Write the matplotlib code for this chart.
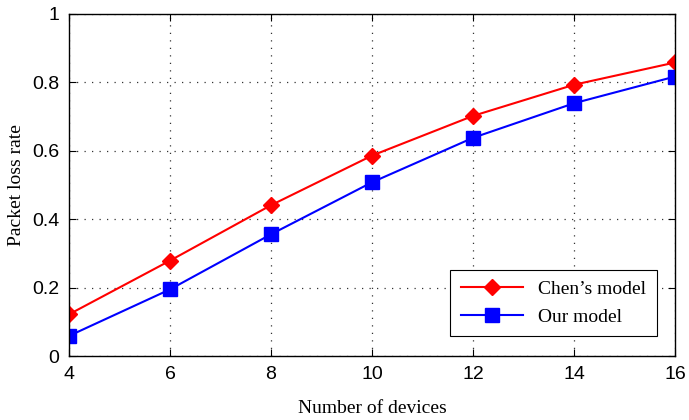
import matplotlib
matplotlib.use("Agg")
import matplotlib.pyplot as plt

# data
devices = [4, 6, 8, 10, 12, 14, 16]
chen_model = [0.122, 0.279, 0.441, 0.586, 0.702, 0.793, 0.858]
our_model = [0.059, 0.195, 0.356, 0.508, 0.638, 0.739, 0.817]
x_ticks = [4, 6, 8, 10, 12, 14, 16]
y_ticks = [0, 0.2, 0.4, 0.6, 0.8, 1]
y_tick_labels = ['0', '0.2', '0.4', '0.6', '0.8', '1']

sans = ['Liberation Sans', 'DejaVu Sans']
serif = ['Liberation Serif', 'DejaVu Serif']

fig = plt.figure(figsize=(6.89, 4.2), dpi=100)
ax = fig.add_axes([0.100, 0.152, 0.880, 0.815])

ax.plot(devices, chen_model, color='red', linewidth=1.5, marker='D',
        markersize=8.5, markerfacecolor='red', markeredgecolor='red',
        label='Chen\u2019s model')
ax.plot(devices, our_model, color='blue', linewidth=1.5, marker='s',
        markersize=9.5, markerfacecolor='blue', markeredgecolor='blue',
        label='Our model')

ax.set_xlim(4, 16)
ax.set_ylim(0, 1)
ax.set_xticks(x_ticks)
ax.set_yticks(y_ticks)
ax.set_yticklabels(y_tick_labels)

for lbl in ax.get_xticklabels() + ax.get_yticklabels():
    lbl.set_family(sans)
    lbl.set_fontsize(14)

ax.tick_params(direction='in', top=True, right=True, length=5, width=0.8,
               pad=7, colors='black')
ax.grid(True, linestyle=(0, (1, 5)), color='black', linewidth=0.9, alpha=0.8)

for sp in ax.spines.values():
    sp.set_linewidth(1.0)
    sp.set_color('black')

ax.set_xlabel('Number of devices', family=serif, fontsize=14, labelpad=12)
ax.set_ylabel('Packet loss rate', family=serif, fontsize=14, labelpad=5)

leg = ax.legend(loc='lower right', bbox_to_anchor=(0.970, 0.058),
                borderaxespad=0, fancybox=False, framealpha=1,
                edgecolor='black', handlelength=3.2,
                prop={'family': serif, 'size': 14},
                borderpad=0.55, labelspacing=0.5)
leg.get_frame().set_linewidth(0.8)

fig.savefig('out.png', dpi=100)
